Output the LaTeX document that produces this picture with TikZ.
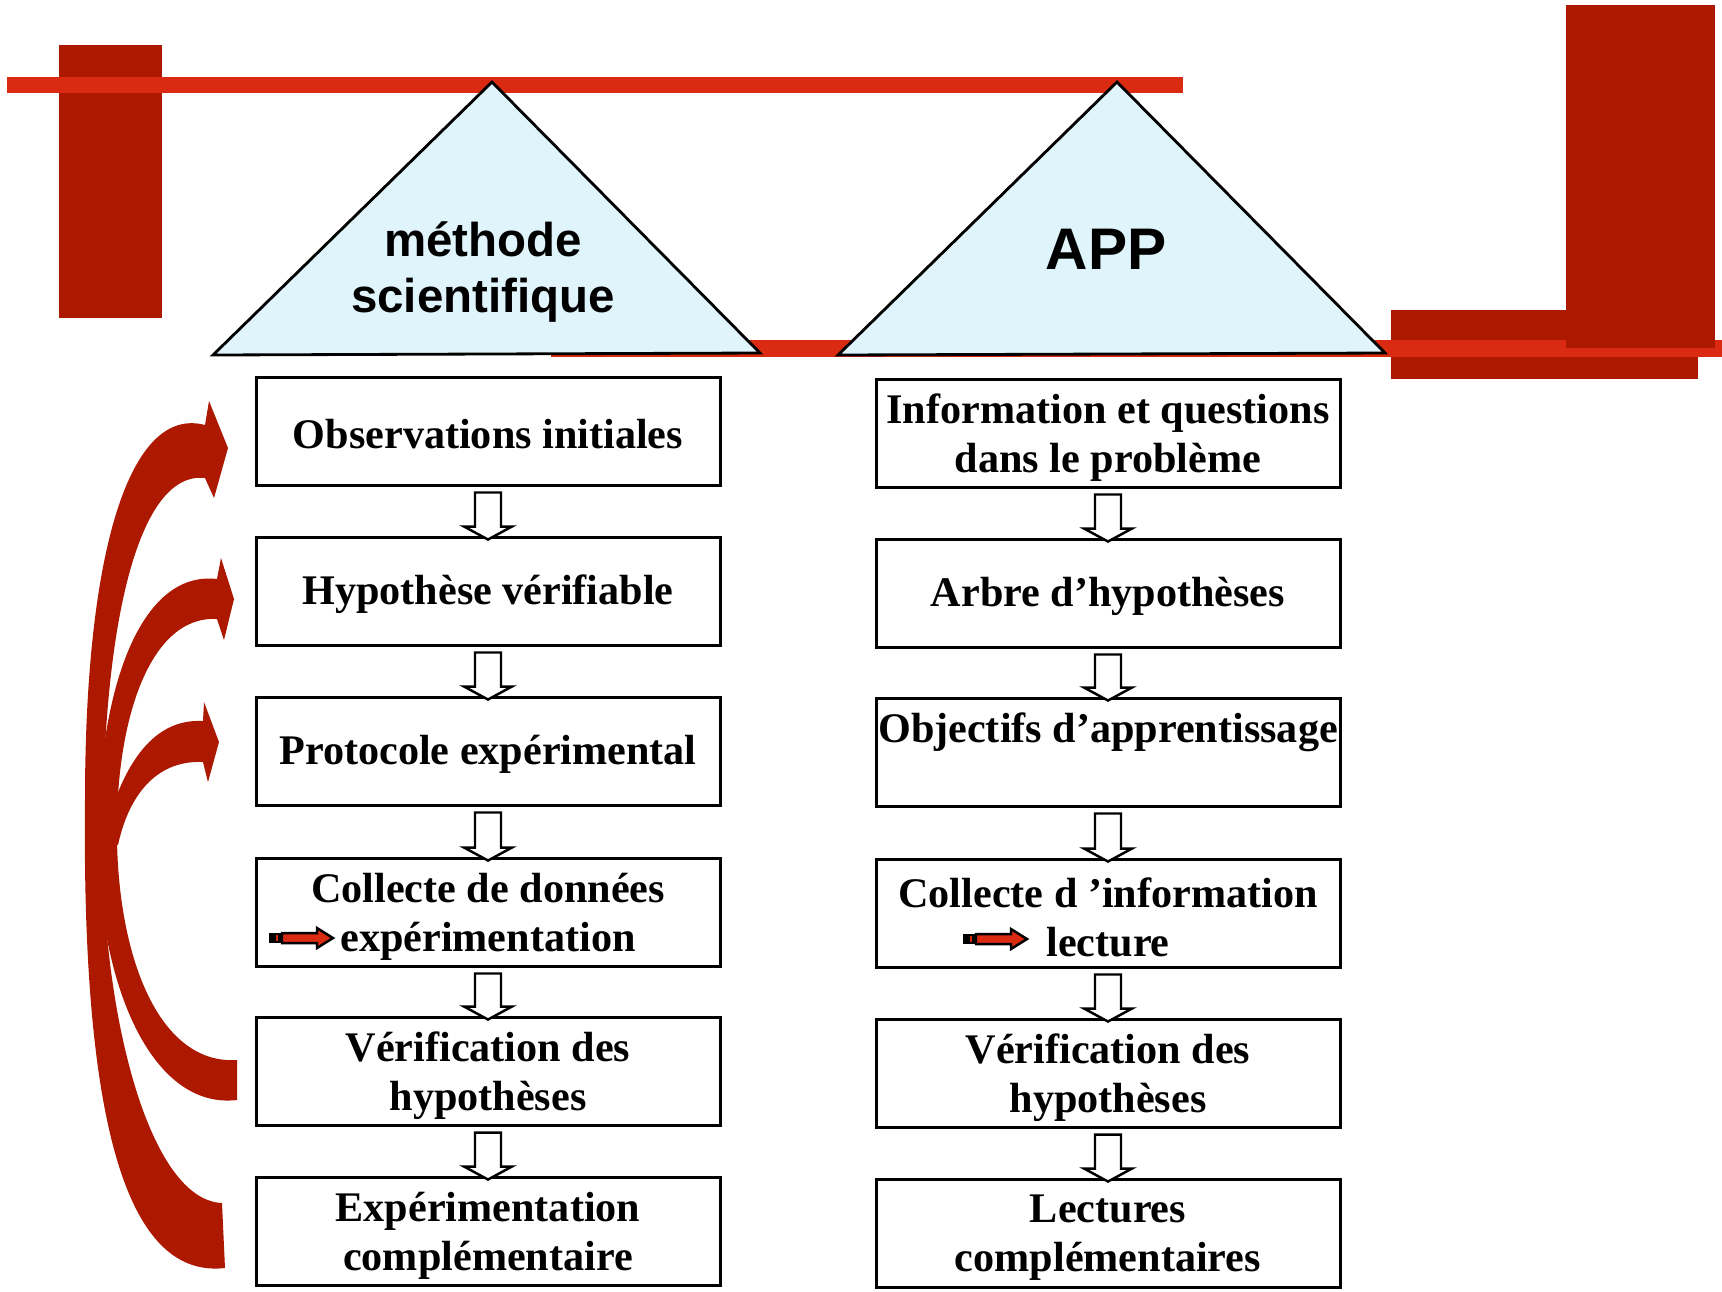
\documentclass[tikz,border=0pt]{standalone}
\usepackage{fontspec}
\setmainfont{Liberation Serif}
\newfontfamily\trifont{Liberation Sans}
\usepackage{tikz}
\usetikzlibrary{calc}

\newcommand{\flowarrow}[2]{%
  \draw[hollow] ($(#1.south)+(-13,6)$) -- ($(#1.south)+(13,6)$)
    -- ($(#2.north)+(13,-9)$) -- ($(#2.north)+(24,-9)$)
    -- ($(#2.north)+(0,4)$) -- ($(#2.north)+(-24,-9)$)
    -- ($(#2.north)+(-13,-9)$) -- cycle;}

\newcommand{\redpointer}[1]{%
  \begin{scope}[shift={#1}]
    \fill[black] (0,-5) rectangle (13,5);
    \draw[brightRed, line width=0.6pt] (8,-3) -- (8,3);
    \draw[pointer] (13,-5) -- (48,-5) -- (48,-10) -- (64,0) -- (48,10) -- (48,5) -- (13,5) -- cycle;
  \end{scope}}

\begin{document}
\begin{tikzpicture}[x=0.1mm, y=-0.1mm,
  boxtext/.style={align=center, inner sep=0pt, font=\fontsize{12}{13.9}\selectfont\bfseries},
  box/.style={boxtext, draw, line width=0.85pt, minimum width=46.4mm, minimum height=10.8mm,
    execute at begin node={\rule{0pt}{10.3pt}}},
  box2/.style={box, label={[boxtext, yshift=-1.25pt]center:{#1}}},
  hollow/.style={draw, line width=0.7pt, fill=white, line join=miter},
  pointer/.style={draw, line width=0.7pt, fill=brightRed},
  tri/.style={draw, line width=0.8pt, fill=paleBlue, line join=miter},
  trilabel/.style={align=center, font=\trifont\bfseries\fontsize{13.5}{16.2}\selectfont}]

  \definecolor{darkRed}{RGB}{172, 24, 0}
  \definecolor{brightRed}{RGB}{218, 42, 18}
  \definecolor{paleBlue}{RGB}{224, 244, 251}

  \path[use as bounding box, fill=white] (0,0) rectangle (1722,1291);

  \fill[darkRed] (59,45) rectangle (162,318);
  \fill[brightRed] (7,77) rectangle (1183,93);
  \fill[darkRed] (1391,310) rectangle (1698,379);
  \fill[brightRed] (551,340) rectangle (1722,357);
  \fill[darkRed] (1566,5) rectangle (1715,348);

  \draw[tri] (213,355) -- (492,82) -- (760,353) -- cycle;
  \draw[tri] (838,355) -- (1117,82) -- (1385,353) -- cycle;
  \node[trilabel] (tm) at (483,272) {méthode\\scientifique};
  \node[trilabel, anchor=base, font=\trifont\bfseries\fontsize{16.7}{18}\selectfont] (ta) at (1106,269) {APP};

  \node[box] (m1) at (488,431) {Observations initiales};
  \node[box] (m2) at (488,591) {Hypothèse vérifiable};
  \node[box] (m3) at (488,751) {Protocole expérimental};
  \node[box2={Collecte de données\\expérimentation}] (m4) at (488,912) {};
  \node[box2={Vérification des\\hypothèses}] (m5) at (488,1071) {};
  \node[box2={Expérimentation\\complémentaire}] (m6) at (488,1231) {};

  \node[box2={Information et questions\\dans le problème}] (a1) at (1108,433) {};
  \node[box] (a2) at (1108,593) {Arbre d’hypothèses};
  \node[box] (a3) at (1108,752) {Objectifs d’apprentissage\\~};
  \node[box2={Collecte d ’information\\lecture}] (a4) at (1108,913) {};
  \node[box2={Vérification des\\hypothèses}] (a5) at (1108,1073) {};
  \node[box2={Lectures\\complémentaires}] (a6) at (1108,1233) {};

  \foreach \a/\b in {m1/m2, m2/m3, m3/m4, m4/m5, m5/m6, a1/a2, a2/a3, a3/a4, a4/a5, a5/a6}
    \flowarrow{\a}{\b};

  \redpointer{(269,938)}
  \redpointer{(963,939)}

  \fill[darkRed] (225,1268) .. controls (120,1280) and (82,1100) .. (85,800)
    .. controls (85,550) and (130,405) .. (205,425)
    -- (209,401) -- (228,448) -- (214,498) -- (205,478)
    .. controls (135,470) and (100,640) .. (103,860)
    .. controls (105,1020) and (150,1200) .. (222,1203) -- cycle;
  \fill[darkRed] (237,1100) .. controls (150,1110) and (98,980) .. (98,840)
    .. controls (98,690) and (140,570) .. (217,579)
    -- (221,558) -- (234,599) -- (224,640) -- (217,619)
    .. controls (150,615) and (115,720) .. (117,840)
    .. controls (119,960) and (160,1065) .. (237,1060) -- cycle;
  \fill[darkRed] (103,840) .. controls (120,770) and (150,718) .. (203,721)
    -- (204,702) -- (219,742) -- (208,782) -- (203,762)
    .. controls (160,760) and (130,790) .. (118,845) -- cycle;
\end{tikzpicture}
\end{document}
